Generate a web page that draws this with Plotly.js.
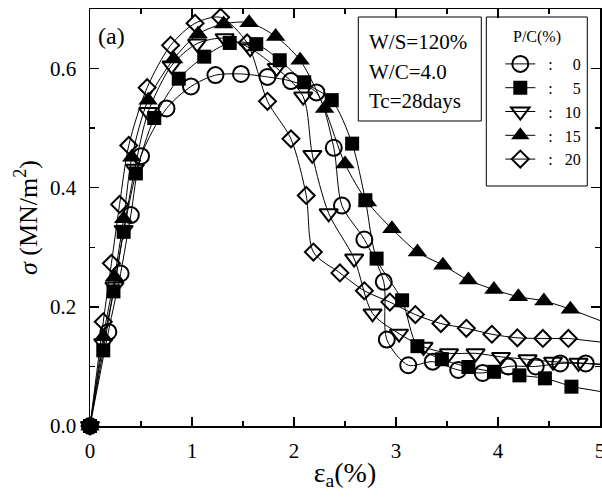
<!DOCTYPE html>
<html>
<head>
<meta charset="utf-8">
<script src="https://cdn.plot.ly/plotly-3.0.1.min.js"></script>
<style>html,body{margin:0;padding:0;background:#fff;}#chart{width:602px;height:500px;}</style>
</head>
<body>
<div id="chart"></div>
<script>
// P/C (%) series labels
const pcLabels = ['0', '5', '10', '15', '20'];

// P/C = 0 (open circles)
const x0 = [0, 0.18, 0.30, 0.40, 0.50, 0.75, 0.99, 1.23, 1.48, 1.74, 1.97, 2.22, 2.39, 2.47, 2.69, 2.88, 2.91, 3.12, 3.36, 3.61, 3.85, 4.10, 4.37, 4.61, 4.86];
const y0 = [0, 0.158, 0.256, 0.354, 0.453, 0.533, 0.570, 0.589, 0.591, 0.586, 0.579, 0.560, 0.467, 0.370, 0.313, 0.242, 0.145, 0.102, 0.108, 0.094, 0.089, 0.100, 0.100, 0.105, 0.105];

// P/C = 5 (filled squares)
const x5 = [0, 0.13, 0.23, 0.33, 0.45, 0.63, 0.87, 1.12, 1.37, 1.63, 1.86, 2.10, 2.37, 2.57, 2.70, 2.81, 3.06, 3.21, 3.45, 3.71, 3.96, 4.21, 4.46, 4.72];
const y5 = [0, 0.127, 0.226, 0.326, 0.424, 0.517, 0.583, 0.620, 0.643, 0.641, 0.614, 0.577, 0.547, 0.474, 0.379, 0.281, 0.211, 0.134, 0.112, 0.099, 0.091, 0.085, 0.080, 0.066];

// P/C = 10 (open down-triangles)
const x10 = [0, 0.13, 0.24, 0.33, 0.44, 0.57, 0.80, 1.05, 1.32, 1.57, 1.83, 2.09, 2.18, 2.34, 2.59, 2.77, 3.03, 3.27, 3.52, 3.78, 4.03, 4.29, 4.54, 4.79];
const y10 = [0, 0.139, 0.234, 0.329, 0.432, 0.527, 0.605, 0.642, 0.651, 0.634, 0.601, 0.553, 0.455, 0.357, 0.281, 0.189, 0.155, 0.133, 0.122, 0.122, 0.116, 0.112, 0.108, 0.106];

// P/C = 15 (filled up-triangles)
const x15 = [0, 0.13, 0.24, 0.33, 0.41, 0.57, 0.82, 1.06, 1.31, 1.56, 1.82, 2.06, 2.30, 2.50, 2.72, 2.96, 3.21, 3.46, 3.71, 3.96, 4.20, 4.45, 4.71];
const y15 = [0, 0.150, 0.250, 0.348, 0.451, 0.547, 0.616, 0.658, 0.675, 0.677, 0.654, 0.614, 0.533, 0.440, 0.376, 0.331, 0.292, 0.270, 0.245, 0.229, 0.217, 0.210, 0.196];

// P/C = 20 (open diamonds)
const x20 = [0, 0.13, 0.21, 0.29, 0.38, 0.56, 0.79, 1.03, 1.28, 1.54, 1.74, 1.97, 2.12, 2.19, 2.45, 2.69, 2.94, 3.19, 3.44, 3.69, 3.94, 4.19, 4.44, 4.69];
const y20 = [0, 0.175, 0.273, 0.372, 0.471, 0.568, 0.639, 0.676, 0.686, 0.643, 0.545, 0.482, 0.387, 0.292, 0.257, 0.227, 0.208, 0.187, 0.172, 0.164, 0.154, 0.148, 0.147, 0.147];

// where each curve meets the right edge of the frame (x = 5)
const xEnd = 5;
const yEnd = [0.104, 0.058, 0.103, 0.177, 0.141];

// axis ticks
const xTicks = [0, 1, 2, 3, 4, 5];
const yTicks = [0.0, 0.2, 0.4, 0.6];

const FONT = 'Liberation Serif, Times New Roman, serif';
const xs = [x0, x5, x10, x15, x20];
const ys = [y0, y5, y10, y15, y20];
const styles = [
  {symbol: 'circle-open', size: 16, lw: 2},
  {symbol: 'square', size: 14, lw: 0},
  {symbol: 'triangle-down-open', size: 16, lw: 2},
  {symbol: 'triangle-up', size: 17, lw: 0},
  {symbol: 'diamond-open', size: 13, lw: 2}
];

function legendName(lbl) {
  const pad = lbl.length === 1 ? 5 : 3;
  return '\u00a0\u00a0:' + '\u00a0'.repeat(pad) + lbl;
}

const traces = [];
// tails to the frame edge
xs.forEach((xv, i) => {
  const n = xv.length - 1;
  traces.push({
    x: [xv[n], xEnd], y: [ys[i][n], yEnd[i]],
    mode: 'lines', line: {color: '#000', width: 1},
    showlegend: false, hoverinfo: 'skip', cliponaxis: false
  });
});
xs.forEach((xv, i) => {
  const s = styles[i];
  traces.push({
    x: xv, y: ys[i], name: legendName(pcLabels[i]),
    mode: 'lines+markers',
    line: {color: '#000', width: 1, shape: 'spline', smoothing: 0.8},
    marker: {symbol: s.symbol, size: s.size, color: '#000', line: {color: '#000', width: s.lw}},
    cliponaxis: false
  });
});

const L = 89.7, R = 599.7, T = 9, B = 426;
const px = v => (v - L) / (R - L);
const py = v => (B - v) / (B - T);

const layout = {
  width: 602, height: 500,
  margin: {l: 90, r: 2, t: 9, b: 74},
  paper_bgcolor: '#fff', plot_bgcolor: '#fff',
  font: {family: FONT, color: '#000', size: 21},
  showlegend: true,
  legend: {
    x: px(500), xanchor: 'left', y: py(47), yanchor: 'top',
    bgcolor: 'rgba(0,0,0,0)', borderwidth: 0,
    font: {family: FONT, size: 16, color: '#000'},
    tracegroupgap: 0
  },
  xaxis: {
    range: [0, 5.0001], tickvals: xTicks, ticktext: xTicks.map(String),
    ticks: 'inside', ticklen: 9, tickwidth: 1.5, tickcolor: '#000',
    minor: {dtick: 0.5, tick0: 0, ticks: 'inside', ticklen: 5, tickwidth: 1.5, tickcolor: '#000'},
    showline: true, linewidth: 1.5, linecolor: '#000', mirror: 'ticks',
    showgrid: false, zeroline: false,
    tickfont: {family: FONT, size: 21},
    ticklabeloverflow: 'allow',
    ticklabelstandoff: 5,
    title: {text: '\u03b5<sub>a</sub>(%)', font: {family: FONT, size: 28}, standoff: 0}
  },
  yaxis: {
    range: [0, 0.7], tickvals: yTicks, ticktext: yTicks.map(v => v.toFixed(1)),
    ticks: 'inside', ticklen: 9, tickwidth: 1.5, tickcolor: '#000',
    minor: {dtick: 0.1, tick0: 0, ticks: 'inside', ticklen: 5, tickwidth: 1.5, tickcolor: '#000'},
    showline: true, linewidth: 1.5, linecolor: '#000', mirror: 'ticks',
    showgrid: false, zeroline: false,
    tickfont: {family: FONT, size: 21},
    ticklabelstandoff: 8,
    title: {text: '<i>\u03c3</i> (MN/m<sup>2</sup>)', font: {family: FONT, size: 26}, standoff: 5}
  },
  shapes: [
    {type: 'rect', xref: 'paper', yref: 'paper', x0: px(358), x1: px(481), y0: py(121), y1: py(17), line: {color: '#000', width: 1}},
    {type: 'rect', xref: 'paper', yref: 'paper', x0: px(486), x1: px(587), y0: py(186), y1: py(17), line: {color: '#000', width: 1}}
  ],
  annotations: [
    {text: '(a)', xref: 'paper', yref: 'paper', x: px(96), y: py(36), xanchor: 'left', yanchor: 'middle', showarrow: false, font: {family: FONT, size: 24}},
    {text: 'P/C(%)', xref: 'paper', yref: 'paper', x: px(537), y: py(37), xanchor: 'center', yanchor: 'middle', showarrow: false, font: {family: FONT, size: 16}},
    {text: 'W/S=120%', xref: 'paper', yref: 'paper', x: px(367), y: py(42), xanchor: 'left', yanchor: 'middle', showarrow: false, font: {family: FONT, size: 21}},
    {text: 'W/C=4.0', xref: 'paper', yref: 'paper', x: px(367), y: py(72), xanchor: 'left', yanchor: 'middle', showarrow: false, font: {family: FONT, size: 21}},
    {text: 'Tc=28days', xref: 'paper', yref: 'paper', x: px(367), y: py(101), xanchor: 'left', yanchor: 'middle', showarrow: false, font: {family: FONT, size: 21}}
  ]
};

Plotly.newPlot('chart', traces, layout, {staticPlot: true, displayModeBar: false});
</script>
</body>
</html>
